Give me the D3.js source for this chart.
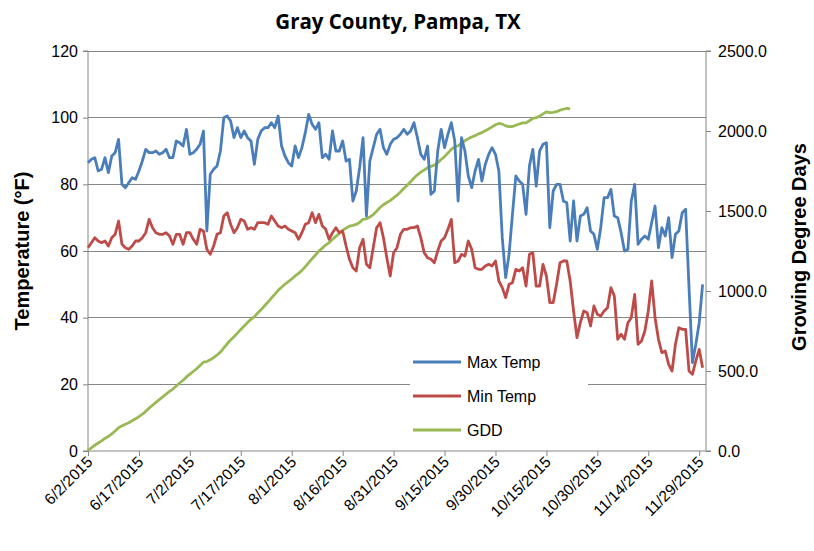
<!DOCTYPE html>
<html>
<head>
<meta charset="utf-8">
<script src="https://cdn.jsdelivr.net/npm/d3@7"></script>
<style>
html,body{margin:0;padding:0;background:#fff;}
svg{display:block;}
</style>
</head>
<body>
<svg id="chart" width="814" height="551"></svg>
<script>
// ---- DATA ----
const startDate = "6/2/2015";
const endDate = "12/1/2015";
const xTickLabels = ["6/2/2015","6/17/2015","7/2/2015","7/17/2015","8/1/2015","8/16/2015","8/31/2015","9/15/2015","9/30/2015","10/15/2015","10/30/2015","11/14/2015","11/29/2015"];
const leftTicks = [0,20,40,60,80,100,120];
const rightTicks = [0,500,1000,1500,2000,2500];
const seriesNames = ["Max Temp","Min Temp","GDD"];

const maxTemp = [86.5,87.5,88,84,84.5,88,83.5,88.5,89.5,93.5,80,79,80.5,82,81.5,84,87,90.5,89.5,89.5,
90,89,89.5,90.5,88,88,93,92.5,91.5,96.5,89,89.5,90.5,92,96,66,83,84.5,85.5,90,
100,100.5,99,94,97,94,96,94,93,86,93.5,96,97,97,98.5,97,100.5,91.5,88.5,86.5,
85.5,91.5,88,91,95.5,101,98,96.5,98.5,88,89,87.5,96,90,90,93,87,87.5,75,78,
85,94,70.5,87,91,95,96.5,91,89,92,93.5,94,95,96.5,95,96,98.5,94,89,87.5,
91.5,77,78,90,96.5,91,95,98.5,93,75,94,90,82.5,79,84,87.5,81,86,89,91,
89,84,64,52,59,71,82.5,81,80,71,85.5,90.5,79.5,90,92,92.5,67,78,80,80,
75,74.5,63,75,63,70.5,71,73,66,65,60.5,67,76,76,78.5,70.5,70,65.5,60,60.5,
75,80,62,63.5,64.5,63.5,68.5,73.5,61,67,64.5,70,58,65,66,71.5,72.5,49,26.5,32,
38.5,50];

const minTemp = [61,62.5,64,63,62.5,63,61.5,64,65,69,62,61,60.5,61.5,63,63,64,65.5,69.5,67,
65.5,65,65,65.5,64.5,62,65,65,62,65.5,65.5,63.5,62,66.5,66,60.5,59,61.5,65,65.5,
70.5,71.5,68,65.5,67,69.5,69,66.5,67,66.5,68.5,68.5,68.5,68,70.5,69,67.5,67,67.5,66.5,
66,65.5,63.5,65.5,68,68.5,71.5,68.5,71,67.5,66.5,63.5,65.5,67,65.5,66,61.5,57.5,55,54,
61,63.5,56,55,61,67,68.5,64,58,52.5,59.5,61,65,66.5,66.5,67,67,67.5,64,59.5,
58,57.5,56.5,60,63,64,66.5,69.5,56.5,57,59,58.5,63,60.5,55,54.5,54.5,55.5,56,55.5,
57,51,49,46,50,50.5,54.5,54,55,49.5,59,59.5,49.5,49.5,56,52.5,44.5,44.5,50,56.5,
57,57,51,42,34,38.5,42,41.5,37.5,43.5,41,40.5,42,43,49,46.5,33.5,35,33.5,38.5,
40,47,32,33,36,42,51,40,33.5,29.5,30,26,24,32,37,36.5,36.5,24,23,27,
30.5,25];

const gdd = [5,20,36,50,63,79,91,107,125,146,157,167,177,189,201,215,230,248,268,286,
304,321,338,356,372,387,406,425,442,463,480,497,514,534,555,559,570,584,600,618,
644,670,694,714,737,759,782,803,823,840,862,884,908,931,956,979,1004,1023,1042,1059,
1075,1094,1110,1129,1151,1177,1202,1225,1250,1268,1287,1302,1323,1341,1359,1379,1393,1405,1410,1416,
1429,1448,1451,1462,1478,1499,1522,1539,1553,1565,1582,1599,1619,1641,1661,1683,1706,1726,1743,1756,
1771,1779,1787,1802,1822,1840,1862,1886,1901,1908,1925,1939,1952,1962,1971,1982,1990,2001,2013,2026,
2039,2047,2043,2032,2027,2028,2036,2044,2051,2051,2064,2079,2083,2093,2107,2119,2115,2116,2121,2130,
2136,2141,2138];

// ---- CHART ----
const parse = d3.timeParse("%m/%d/%Y");
const t0 = parse(startDate);
const t1 = parse(endDate);
const dateAt = i => d3.timeDay.offset(t0, i);

const svg = d3.select("#chart");
const L = 88, R = 706, T = 51, B = 451;
const x = d3.scaleTime().domain([t0, t1]).range([L, R]);
const yL = d3.scaleLinear().domain([0, 120]).range([B, T]);
const yR = d3.scaleLinear().domain([0, 2500]).range([B, T]);

const axisColor = "#868686";
const font = "'Liberation Sans', Arial, sans-serif";

// gridlines
svg.append("g")
  .selectAll("line").data(leftTicks.filter(d => d > 0)).join("line")
  .attr("x1", L).attr("x2", R)
  .attr("y1", d => yL(d)).attr("y2", d => yL(d))
  .attr("stroke", axisColor).attr("stroke-width", 1).attr("shape-rendering","crispEdges");

// left axis
const gL = svg.append("g").attr("transform", `translate(${L},0)`)
  .call(d3.axisLeft(yL).tickValues(leftTicks).tickSize(5).tickPadding(5).tickFormat(d3.format("d")));
// right axis
const gR = svg.append("g").attr("transform", `translate(${R},0)`)
  .call(d3.axisRight(yR).tickValues(rightTicks).tickSize(5).tickPadding(7).tickFormat(d3.format(".1f")));
// bottom axis
const xTickDates = xTickLabels.map(parse);
const gB = svg.append("g").attr("transform", `translate(0,${B})`)
  .call(d3.axisBottom(x).tickValues(xTickDates).tickSize(5).tickFormat(d => xTickLabels[xTickDates.findIndex(t => +t === +d)]));

[gL, gR, gB].forEach(g => {
  g.selectAll("path.domain").attr("stroke", axisColor).attr("stroke-width", 1);
  g.selectAll(".tick line").attr("stroke", axisColor);
  g.selectAll("text").attr("fill", "#000").style("font-family", font).style("font-size", "16px");
});
gL.select("path.domain").attr("d", `M-5,${B}H0V${T}H-5`);
gR.select("path.domain").attr("d", `M5,${B}H0V${T}H5`);
gB.select("path.domain").attr("d", `M${L},0H${R}`);
gB.selectAll("text")
  .style("font-size", "15.5px")
  .attr("text-anchor", "end")
  .attr("dy", null).attr("y", 0)
  .attr("transform", "translate(5,12) rotate(-45)");

// lines
const idx = d3.range(maxTemp.length);
const lineL = arr => d3.line().x(i => x(dateAt(i))).y(i => yL(arr[i]));
const lineR = d3.line().x(i => x(dateAt(i))).y(i => yR(gdd[i]));
const colors = ["#4a7ebb", "#be4b48", "#98b954"];

svg.append("path").datum(d3.range(gdd.length)).attr("d", lineR)
  .attr("fill","none").attr("stroke",colors[2]).attr("stroke-width",2.8).attr("stroke-linejoin","round");
svg.append("path").datum(idx).attr("d", lineL(minTemp))
  .attr("fill","none").attr("stroke",colors[1]).attr("stroke-width",2.8).attr("stroke-linejoin","round");
svg.append("path").datum(idx).attr("d", lineL(maxTemp))
  .attr("fill","none").attr("stroke",colors[0]).attr("stroke-width",2.8).attr("stroke-linejoin","round");

// legend
const lg = svg.append("g");
lg.append("rect").attr("x", 410).attr("y", 346).attr("width", 178).attr("height", 100).attr("fill", "#fff");
seriesNames.forEach((n, k) => {
  const yy = 362 + k * 34;
  lg.append("line").attr("x1", 413).attr("x2", 461).attr("y1", yy).attr("y2", yy)
    .attr("stroke", colors[k]).attr("stroke-width", 2.8);
  lg.append("text").attr("x", 467).attr("y", yy + 6).text(n)
    .style("font-family", font).style("font-size", "16px").attr("fill", "#000");
});

// titles
svg.append("text").attr("x", 398).attr("y", 29).attr("text-anchor","middle")
  .text("Gray County, Pampa, TX")
  .style("font-family", "'Open Sans', 'Liberation Sans', sans-serif").style("font-weight","bold").style("font-size","20.5px");
svg.append("text").attr("transform","translate(29,251) rotate(-90)").attr("text-anchor","middle")
  .text("Temperature (°F)")
  .style("font-family", font).style("font-weight","bold").style("font-size","20px");
svg.append("text").attr("transform","translate(806,247) rotate(-90)").attr("text-anchor","middle")
  .text("Growing Degree Days")
  .style("font-family", font).style("font-weight","bold").style("font-size","20px");
</script>
</body>
</html>
